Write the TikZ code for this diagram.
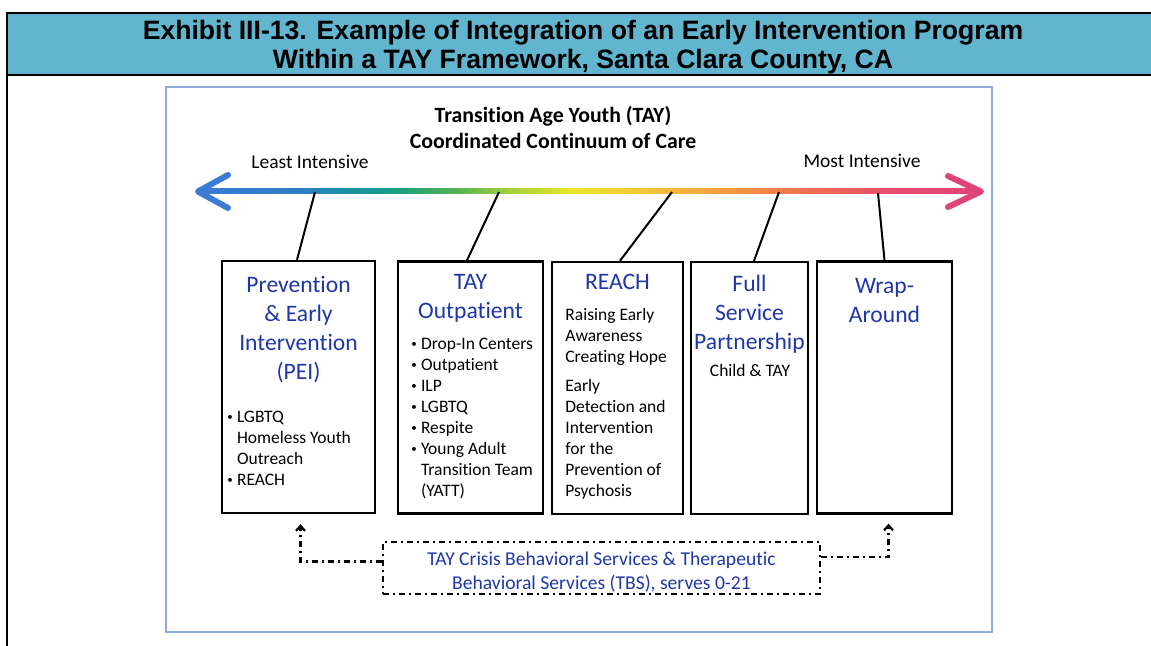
\documentclass[tikz,border=0pt]{standalone}
\usepackage{fontspec}
\setmainfont{Carlito}[Ligatures=NoCommon]
\newfontfamily\headfont{Liberation Sans}
\usetikzlibrary{positioning,calc,arrows.meta}

\definecolor{headblue}{HTML}{62B5CF}
\definecolor{frameblue}{HTML}{8FAADC}
\definecolor{progblue}{HTML}{1F36A6}
\definecolor{sA}{HTML}{3B7BD6}
\definecolor{sB}{HTML}{2F7DC6}
\definecolor{sC}{HTML}{1D8FA8}
\definecolor{sD}{HTML}{179E86}
\definecolor{sE}{HTML}{4CB055}
\definecolor{sF}{HTML}{A6D03E}
\definecolor{sG}{HTML}{EBE629}
\definecolor{sH}{HTML}{F3C43A}
\definecolor{sI}{HTML}{F49A42}
\definecolor{sJ}{HTML}{EF6E52}
\definecolor{sK}{HTML}{E84B6E}
\definecolor{sL}{HTML}{E0437A}
\pgfdeclarehorizontalshading{intensity}{100bp}{color(0bp)=(sA); color(25bp)=(sA);
  color(31bp)=(sB); color(34bp)=(sC); color(37.25bp)=(sD); color(41bp)=(sE);
  color(45bp)=(sF); color(48.75bp)=(sG); color(53.8bp)=(sH); color(58.9bp)=(sI);
  color(64bp)=(sJ); color(69.7bp)=(sK); color(75bp)=(sL); color(100bp)=(sL)}
\newcommand{\bul}{\makebox[4.8pt][l]{\raisebox{0.9pt}{\fontsize{5.5}{5.5}\selectfont\textbullet}}}

\begin{document}
\begin{tikzpicture}[x=0.5pt,y=-0.5pt,
    prog/.style={draw,line width=1.2pt,minimum height=126pt,inner sep=0pt},
    progtitle/.style={text=progblue,font=\fontsize{11.8}{14.5}\selectfont,inner sep=0pt,anchor=north},
    progtext/.style={font=\fontsize{8.75}{10.5}\selectfont,inner sep=0pt,anchor=north west},
    link/.style={line width=1pt},
    crisisline/.style={line width=1.1pt,dash pattern=on 3pt off 2pt on 1pt off 2pt}]
  \useasboundingbox (0,0) rectangle (1151,646);

  \fill[headblue] (7,13) rectangle (1160,75);
  \draw[line width=1pt] (1160,13) -- (7,13) -- (7,650);
  \draw[line width=1pt] (7,75) -- (1160,75);
  \node[font=\headfont\bfseries\fontsize{13.3}{14.5}\selectfont,inner sep=0pt,anchor=north] (exhibit) at (583,19)
    {\begin{tabular}{@{}c@{}}Exhibit III-13. Example of Integration of an Early Intervention Program\\
     Within a TAY Framework, Santa Clara County, CA\end{tabular}};

  \draw[frameblue,line width=0.8pt] (166,87) rectangle (992,632);

  \node[font=\bfseries\fontsize{10.9}{13}\selectfont,inner sep=0pt,anchor=north] (tay) at (553,104)
    {\begin{tabular}{@{}c@{}}Transition Age Youth (TAY)\\Coordinated Continuum of Care\end{tabular}};
  \node[font=\fontsize{9.75}{12}\selectfont,inner sep=0pt,anchor=base] (least) at (310,169) {Least Intensive};
  \node[font=\fontsize{9.75}{12}\selectfont,inner sep=0pt,anchor=base] (most) at (862,168) {Most Intensive};

  \coordinate (left) at (198,191.5);
  \coordinate (right) at (981,191.5);
  \shade[shading=intensity] (200,189) rectangle (979,194);
  \draw[sA,line width=3pt,line cap=round,line join=round] (228,175) -- (left) -- (228,208);
  \draw[sL,line width=3pt,line cap=round,line join=round] (948,176) -- (right) -- (948,207);

  \node[prog,minimum width=76.5pt] (box1) at (298.5,387) {};
  \node[prog,minimum width=72.5pt] (box2) at (470.5,387.5) {};
  \node[prog,minimum width=65.5pt] (box3) at (617.5,388) {};
  \node[prog,minimum width=58.5pt] (box4) at (749.5,388) {};
  \node[prog,minimum width=67.5pt] (box5) at (884.5,387.5) {};

  \coordinate (a1) at (315,192);
  \coordinate (a2) at (499,192);
  \coordinate (a3) at (672,192);
  \coordinate (a4) at (779,192);
  \coordinate (a5) at (878,193);
  \draw[link] (a1) -- ([xshift=-0.75pt]box1.north);
  \draw[link] (a2) -- ([xshift=-1.75pt]box2.north);
  \draw[link] (a3) -- ([xshift=1.25pt]box3.north);
  \draw[link] (a4) -- ([xshift=2.25pt]box4.north);
  \draw[link] (a5) -- (box5.north);

  \node[progtitle] (peititle) at (298.5,272)
    {\begin{tabular}{@{}c@{}}Prevention\\\& Early\\Intervention\\(PEI)\end{tabular}};
  \node[progtext] (peilist) at (227,407)
    {\begin{tabular}{@{}l@{}l@{}}\bul&LGBTQ\\&Homeless Youth\\&Outreach\\\bul&REACH\end{tabular}};

  \node[progtitle] (outtitle) at (470.5,269)
    {\begin{tabular}{@{}c@{}}TAY\\Outpatient\end{tabular}};
  \node[progtext] (outlist) at (411,334)
    {\begin{tabular}{@{}l@{}l@{}}\bul&Drop-In Centers\\\bul&Outpatient\\\bul&ILP\\\bul&LGBTQ\\
     \bul&Respite\\\bul&Young Adult\\&Transition Team\\&(YATT)\end{tabular}};

  \node[progtitle] (reachtitle) at (617.5,269) {\begin{tabular}{@{}c@{}}REACH\end{tabular}};
  \node[progtext] (reachtext) at (565,305)
    {\begin{tabular}{@{}l@{}}Raising Early\\Awareness\\Creating Hope\\[4pt]Early\\Detection and\\
     Intervention\\for the\\Prevention of\\Psychosis\end{tabular}};

  \node[progtitle] (fsptitle) at (749.5,271)
    {\begin{tabular}{@{}c@{}}Full\\Service\\Partnership\end{tabular}};
  \node[font=\fontsize{8.75}{10.5}\selectfont,inner sep=0pt,anchor=base] (fsptext) at (750,377) {Child \& TAY};

  \node[progtitle] (wraptitle) at (884.5,273)
    {\begin{tabular}{@{}c@{}}Wrap-\\Around\end{tabular}};

  \node[crisisline,draw,minimum width=218.5pt,minimum height=26pt,inner sep=0pt] (crisis) at (601.5,568) {};
  \node[text=progblue,font=\fontsize{9.8}{12}\selectfont,inner sep=0pt] (crisistext) at ([yshift=-2.5pt]crisis.center)
    {\begin{tabular}{@{}c@{}}TAY Crisis Behavioral Services \& Therapeutic\\
     Behavioral Services (TBS), serves 0-21\end{tabular}};

  \draw[crisisline,-{Straight Barb[length=2.5pt,width=4.5pt]}] ($(crisis.north west)!0.38!(crisis.south west)$)
    -| ([xshift=1pt]box1.south) [shorten >=5pt];
  \draw[crisisline,-{Straight Barb[length=2.5pt,width=4.5pt]},shorten >=4.5pt]
    ($(crisis.north east)!0.3!(crisis.south east)$) -| ([xshift=2pt]box5.south);
\end{tikzpicture}
\end{document}
